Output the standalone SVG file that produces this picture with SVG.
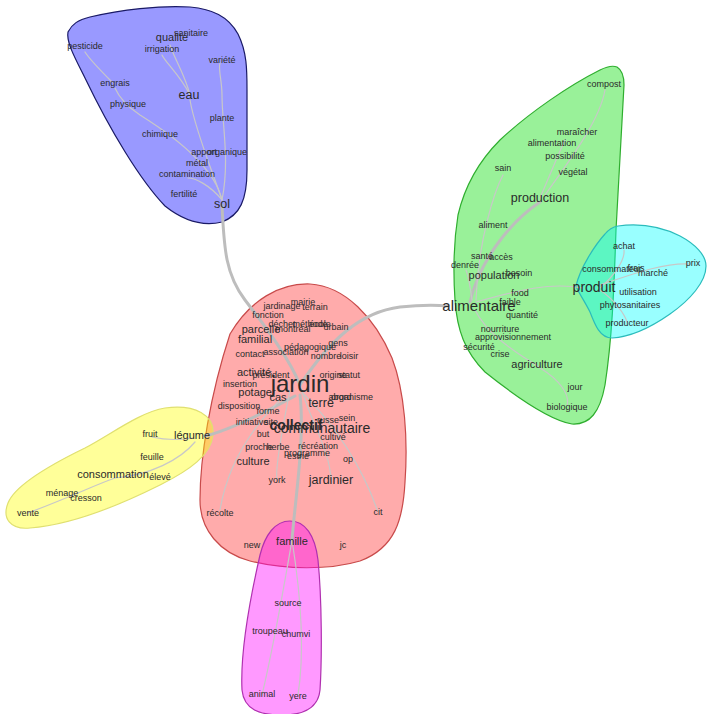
<svg xmlns="http://www.w3.org/2000/svg" width="707" height="714" viewBox="0 0 707 714">
<style>
text{font-family:"Liberation Sans",Arial,sans-serif;fill:#2a2a2a;text-anchor:middle;font-size:9px}
.m{font-size:11px}
.l{font-size:12.5px}
.xl{font-size:14px}
.h{stroke-width:1.2}
.e{fill:none;stroke:#c8c8c8;stroke-width:1.2;stroke-linecap:round}
.E{fill:none;stroke:#bdbdbd;stroke-width:3;stroke-linecap:round}
</style>
<rect width="707" height="714" fill="#ffffff"/>
<g id="halos">
<path id="halo-sol" class="h" fill="#0000ff" fill-opacity="0.4" stroke="#1a1a66" d="M68,32 C72,24 78,20 90,17 C120,10 160,5 190,7 C212,9 228,16 238,34 C247,52 247,70 247,90 L247,170 C247,200 240,215 222,222 C205,226 185,222 165,206 C140,180 110,130 85,78 C75,58 66,42 68,32 Z"/>
<path id="halo-alimentaire" class="h" fill="#00dd00" fill-opacity="0.4" stroke="#2fae2f" d="M617,67 C622,70 624,76 624,85 L616,230 C614,290 612,340 605,385 C600,412 590,425 572,424 C550,420 520,400 485,372 C465,352 457,330 455,300 C453,270 454,240 458,215 C465,185 480,160 500,140 C530,112 570,85 600,70 C606,67 612,65 617,67 Z"/>
<path id="halo-produit" class="h" fill="#00ffff" fill-opacity="0.4" stroke="#2bbcbc" d="M618,226 C640,223 660,226 680,236 C695,244 706,255 706,266 C706,282 690,300 670,314 C650,328 630,337 612,338 C600,338 595,325 590,312 C584,300 578,292 576,286 C580,268 595,245 605,234 C609,229 613,227 618,226 Z"/>
<path id="halo-jardin" class="h" fill="#ff0000" fill-opacity="0.33" stroke="#c84a4a" d="M230,334 C250,300 280,283 310,284 C345,286 375,318 392,358 C405,392 408,440 405,482 C403,520 395,548 360,561 C330,570 285,570 250,561 C220,553 200,530 200,500 C200,458 210,395 230,334 Z"/>
<path id="halo-famille" class="h" fill="#ff00ff" fill-opacity="0.4" stroke="#b030b0" d="M290,521 C305,521 315,535 318,560 C322,600 322,660 320,690 C318,710 300,715 282,715 C260,715 244,710 242,690 C240,650 252,590 260,555 C265,535 275,521 290,521 Z"/>
<path id="halo-legume" class="h" fill="#ffff00" fill-opacity="0.4" stroke="#e0e070" d="M165,408 C195,404 215,415 213,435 C211,455 190,470 160,485 C120,505 70,525 30,528 C10,530 2,518 8,503 C15,485 50,465 85,448 C110,435 140,412 165,408 Z"/>
</g>
<g id="connectors">
<path class="E" d="M222,205 C224,250 226,275 245,300 C268,330 290,360 300,385"/>
<path class="E" d="M300,385 C330,340 360,312 400,307 C420,305 435,305 448,306"/>
<path class="E" d="M205,436 C230,430 260,415 295,396"/>
<path class="E" d="M292,540 C295,500 305,440 300,395"/>
<path class="E" d="M470,302 C480,260 510,222 540,202"/>
<path class="e" d="M476,302 C520,290 550,282 583,288"/>
<path class="e" d="M600,285 C630,275 665,262 690,264"/>
<path class="e" d="M222,200 C215,170 180,140 140,115 C125,105 118,95 115,88"/>
<path class="e" d="M222,200 C212,170 195,130 190,100"/>
<path class="e" d="M190,95 C185,75 175,60 170,45"/>
<path class="e" d="M190,95 C180,75 165,62 162,55"/>
<path class="e" d="M222,200 C230,160 222,125 222,95 C222,80 218,70 220,63"/>
<path class="e" d="M112,82 C100,70 90,60 85,52"/>
<path class="e" d="M222,200 C210,185 195,178 188,178"/>
<path class="e" d="M545,195 C570,160 600,120 605,90"/>
<path class="e" d="M540,198 C550,175 560,150 565,140"/>
<path class="e" d="M476,300 C478,240 495,190 503,175"/>
<path class="e" d="M475,310 C490,340 530,360 540,368 C560,380 570,395 567,405"/>
<path class="e" d="M472,300 C470,285 468,275 466,270"/>
<path class="e" d="M600,290 C615,300 625,315 627,322"/>
<path class="e" d="M600,288 C615,275 625,260 624,250"/>
<path class="e" d="M300,385 C310,420 330,450 331,480"/>
<path class="e" d="M292,540 C285,580 275,640 262,695"/>
<path class="e" d="M292,540 C300,590 305,650 298,695"/>
<path class="e" d="M290,390 C280,440 275,470 277,480"/>
<path class="e" d="M300,390 C330,420 360,460 378,512"/>
<path class="e" d="M280,400 C240,440 225,480 220,510"/>
<path class="e" d="M192,438 C180,440 165,440 152,437"/>
<path class="e" d="M195,442 C180,460 150,475 115,478 C95,485 75,495 28,513"/>
</g>
<g id="n-pesticide"><text x="85" y="49">pesticide</text></g>
<g id="n-qualite"><text class="m" x="172" y="41">qualité</text></g>
<g id="n-sanitaire"><text x="191" y="36">sanitaire</text></g>
<g id="n-irrigation"><text x="162" y="52">irrigation</text></g>
<g id="n-variete"><text x="222" y="63">variété</text></g>
<g id="n-engrais"><text x="115" y="86">engrais</text></g>
<g id="n-eau"><text class="l" x="189" y="99">eau</text></g>
<g id="n-physique"><text x="128" y="107">physique</text></g>
<g id="n-plante"><text x="222" y="121">plante</text></g>
<g id="n-chimique"><text x="160" y="137">chimique</text></g>
<g id="n-apport"><text x="204" y="155">apport</text></g>
<g id="n-organique"><text x="227" y="155">organique</text></g>
<g id="n-metal"><text x="197" y="166">métal</text></g>
<g id="n-contamination"><text x="187" y="177">contamination</text></g>
<g id="n-fertilite"><text x="184" y="197">fertilité</text></g>
<g id="n-sol"><text class="l" x="222" y="208">sol</text></g>
<g id="n-compost"><text x="604" y="87">compost</text></g>
<g id="n-maraicher"><text x="577" y="135">maraîcher</text></g>
<g id="n-alimentation"><text x="552" y="146">alimentation</text></g>
<g id="n-possibilite"><text x="565" y="159">possibilité</text></g>
<g id="n-sain"><text x="503" y="171">sain</text></g>
<g id="n-vegetal"><text x="573" y="175">végétal</text></g>
<g id="n-production"><text class="l" x="540" y="202">production</text></g>
<g id="n-aliment"><text x="493" y="228">aliment</text></g>
<g id="n-sante"><text x="482" y="259">santé</text></g>
<g id="n-acces"><text x="501" y="260">accès</text></g>
<g id="n-denree"><text x="465" y="268">denrée</text></g>
<g id="n-population"><text class="m" x="494" y="279">population</text></g>
<g id="n-besoin"><text x="519" y="276">besoin</text></g>
<g id="n-food"><text x="520" y="296">food</text></g>
<g id="n-faible"><text x="510" y="305">faible</text></g>
<g id="n-alimentaire"><text class="xl" x="479" y="311" style="font-size:15px">alimentaire</text></g>
<g id="n-quantite"><text x="522" y="318">quantité</text></g>
<g id="n-nourriture"><text x="500" y="332">nourriture</text></g>
<g id="n-approvisionnement"><text x="513" y="340">approvisionnement</text></g>
<g id="n-securite"><text x="479" y="350">sécurité</text></g>
<g id="n-crise"><text x="500" y="357">crise</text></g>
<g id="n-agriculture"><text class="m" x="537" y="368">agriculture</text></g>
<g id="n-jour"><text x="575" y="390">jour</text></g>
<g id="n-biologique"><text x="567" y="410">biologique</text></g>
<g id="n-achat"><text x="624" y="249">achat</text></g>
<g id="n-consommateur"><text x="612" y="272">consommateur</text></g>
<g id="n-frais"><text x="636" y="271">frais</text></g>
<g id="n-marche"><text x="653" y="276">marché</text></g>
<g id="n-prix"><text x="693" y="266">prix</text></g>
<g id="n-produit"><text class="xl" x="594" y="292">produit</text></g>
<g id="n-utilisation"><text x="638" y="295">utilisation</text></g>
<g id="n-phytosanitaires"><text x="630" y="308">phytosanitaires</text></g>
<g id="n-producteur"><text x="627" y="326">producteur</text></g>
<g id="n-jardinage"><text x="282" y="309">jardinage</text></g>
<g id="n-mairie"><text x="303" y="305">mairie</text></g>
<g id="n-terrain"><text x="315" y="310">terrain</text></g>
<g id="n-fonction"><text x="268" y="318">fonction</text></g>
<g id="n-dechet"><text x="282" y="327">déchet</text></g>
<g id="n-parcelle"><text class="m" x="261" y="333">parcelle</text></g>
<g id="n-montreal"><text x="293" y="332">montréal</text></g>
<g id="n-methode"><text x="310" y="327">méthode</text></g>
<g id="n-ecole"><text x="320" y="327">école</text></g>
<g id="n-urbain"><text x="336" y="330">urbain</text></g>
<g id="n-familial"><text class="m" x="255" y="343">familial</text></g>
<g id="n-gens"><text x="338" y="346">gens</text></g>
<g id="n-pedagogique"><text x="310" y="350">pédagogique</text></g>
<g id="n-contact"><text x="250" y="357">contact</text></g>
<g id="n-association"><text x="286" y="355">association</text></g>
<g id="n-nombre"><text x="326" y="359">nombre</text></g>
<g id="n-loisir"><text x="349" y="359">loisir</text></g>
<g id="n-activite"><text class="m" x="254" y="376">activité</text></g>
<g id="n-president"><text x="271" y="378">président</text></g>
<g id="n-origine"><text x="333" y="378">origine</text></g>
<g id="n-statut"><text x="349" y="378">statut</text></g>
<g id="n-jardin"><text x="300" y="392" style="font-size:24px">jardin</text></g>
<g id="n-insertion"><text x="240" y="387">insertion</text></g>
<g id="n-potager"><text class="m" x="257" y="396">potager</text></g>
<g id="n-cas"><text class="m" x="278" y="401">cas</text></g>
<g id="n-abord"><text x="340" y="400">abord</text></g>
<g id="n-organisme"><text x="352" y="400">organisme</text></g>
<g id="n-terre"><text class="l" x="321" y="407">terre</text></g>
<g id="n-disposition"><text x="239" y="409">disposition</text></g>
<g id="n-forme"><text x="268" y="414">forme</text></g>
<g id="n-initiative"><text x="252" y="425">initiative</text></g>
<g id="n-site"><text x="271" y="425">site</text></g>
<g id="n-russe"><text x="328" y="423">russe</text></g>
<g id="n-sein"><text x="347" y="421">sein</text></g>
<g id="n-collectif"><text class="xl" x="296" y="430" style="font-weight:bold">collectif</text></g>
<g id="n-communautaire"><text class="xl" x="322" y="433">communautaire</text></g>
<g id="n-but"><text x="263" y="437">but</text></g>
<g id="n-cultive"><text x="333" y="440">cultivé</text></g>
<g id="n-proche"><text x="259" y="450">proche</text></g>
<g id="n-herbe"><text x="278" y="450">herbe</text></g>
<g id="n-recreation"><text x="318" y="449">récréation</text></g>
<g id="n-programme"><text x="307" y="456">programme</text></g>
<g id="n-estrie"><text x="298" y="459">estrie</text></g>
<g id="n-culture"><text class="m" x="253" y="465">culture</text></g>
<g id="n-op"><text x="348" y="462">op</text></g>
<g id="n-york"><text x="277" y="483">york</text></g>
<g id="n-jardinier"><text class="l" x="331" y="484">jardinier</text></g>
<g id="n-recolte"><text x="220" y="516">récolte</text></g>
<g id="n-cit"><text x="378" y="515">cit</text></g>
<g id="n-new"><text x="252" y="548">new</text></g>
<g id="n-famille"><text class="m" x="292" y="545">famille</text></g>
<g id="n-jc"><text x="343" y="548">jc</text></g>
<g id="n-source"><text x="288" y="606">source</text></g>
<g id="n-troupeau"><text x="270" y="634">troupeau</text></g>
<g id="n-chumvi"><text x="296" y="637">chumvi</text></g>
<g id="n-animal"><text x="262" y="697">animal</text></g>
<g id="n-yere"><text x="298" y="699">yere</text></g>
<g id="n-fruit"><text x="150" y="437">fruit</text></g>
<g id="n-legume"><text class="m" x="192" y="439">légume</text></g>
<g id="n-feuille"><text x="152" y="460">feuille</text></g>
<g id="n-consommation"><text class="m" x="113" y="478">consommation</text></g>
<g id="n-eleve"><text x="160" y="480">élevé</text></g>
<g id="n-menage"><text x="62" y="496">ménage</text></g>
<g id="n-cresson"><text x="86" y="501">cresson</text></g>
<g id="n-vente"><text x="28" y="516">vente</text></g>
</svg>
